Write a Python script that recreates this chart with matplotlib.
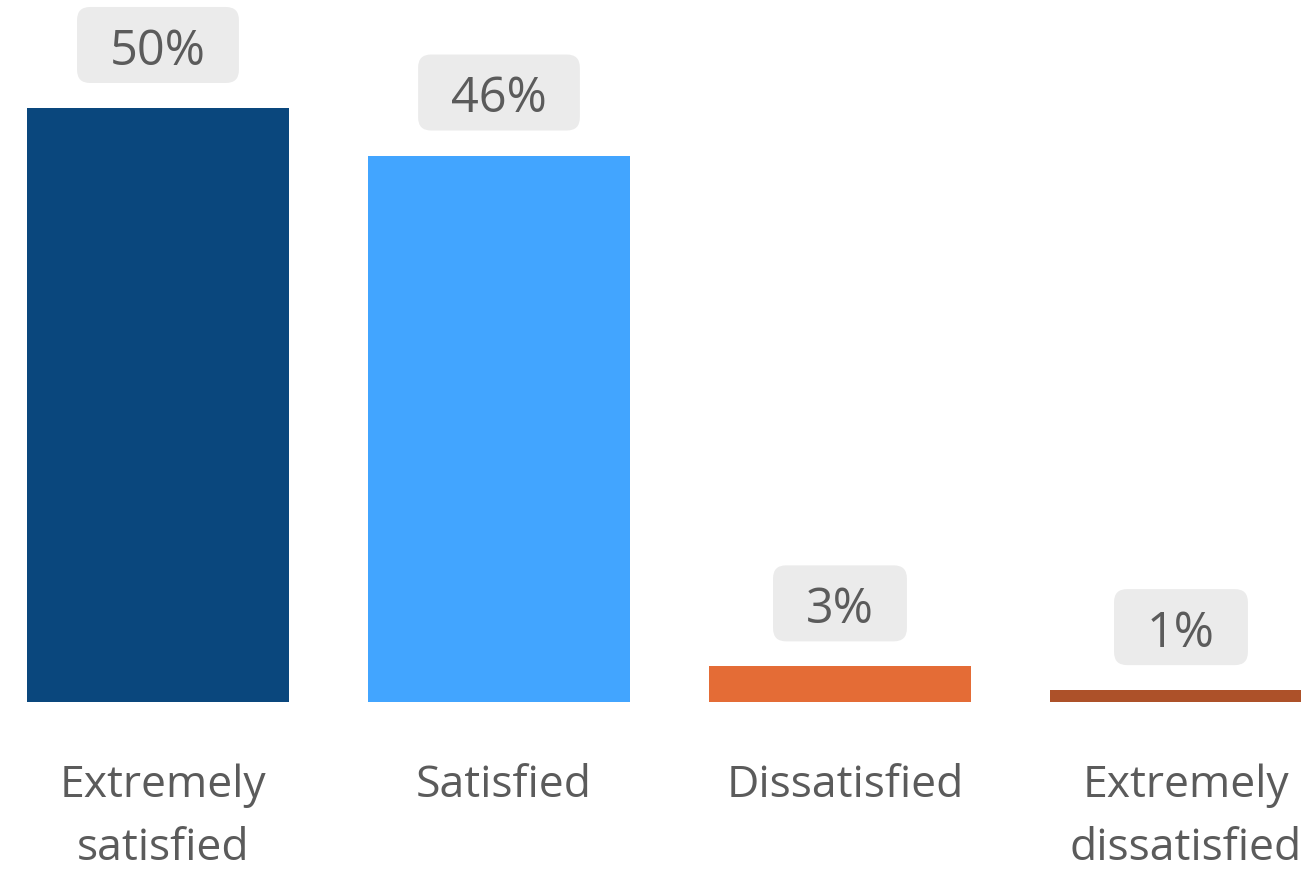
import matplotlib
matplotlib.use("Agg")
import matplotlib.pyplot as plt
from matplotlib.patches import FancyBboxPatch

categories = ["Extremely\nsatisfied", "Satisfied", "Dissatisfied", "Extremely\ndissatisfied"]
values = [50, 46, 3, 1]
colors = ["#0A477D", "#42A5FF", "#E46C36", "#AD5129"]

plt.rcParams['font.family'] = ['Open Sans', 'DejaVu Sans']
txt_col = "#5B5B5B"

fig = plt.figure(figsize=(13.01, 8.73), dpi=100)
ax = fig.add_axes([0, 0, 1, 1])
ax.set_xlim(-0.4633, 3.352)
ax.set_ylim(-14.394, 59.09)
ax.axis("off")

x = list(range(len(values)))
ax.bar(x, values, width=0.768, color=colors)

# px -> points at dpi 100
pt = 0.72

labels = []
for xi, v in zip(x, values):
    t = ax.annotate(f"{v}%", (xi, v), xytext=(0, 56 * pt), textcoords="offset points",
                    ha="center", va="center", fontsize=35, color=txt_col, zorder=3)
    labels.append(t)

# category names, one line at a time (63 px line pitch)
for xi, c in zip(x, categories):
    for k, line in enumerate(c.split("\n")):
        ax.annotate(line, (xi, 0), xytext=(5 * pt, -(95 + 63 * k) * pt), textcoords="offset points",
                    ha="center", va="baseline", fontsize=32, color=txt_col)

# rounded grey boxes behind the value labels
fig.canvas.draw()
r = fig.canvas.get_renderer()
for t in labels:
    bb = t.get_window_extent(r)
    cx = (bb.x0 + bb.x1) / 2
    cy = (bb.y0 + bb.y1) / 2 + 7
    w = bb.width + 66
    h = 76
    rad = 13
    box = FancyBboxPatch((cx - w / 2 + rad, cy - h / 2 + rad), w - 2 * rad, h - 2 * rad,
                         boxstyle=f"round,pad={rad}", transform=None,
                         facecolor="#EBEBEB", edgecolor="none", zorder=2)
    ax.add_patch(box)

fig.savefig("out.png", dpi=100)
